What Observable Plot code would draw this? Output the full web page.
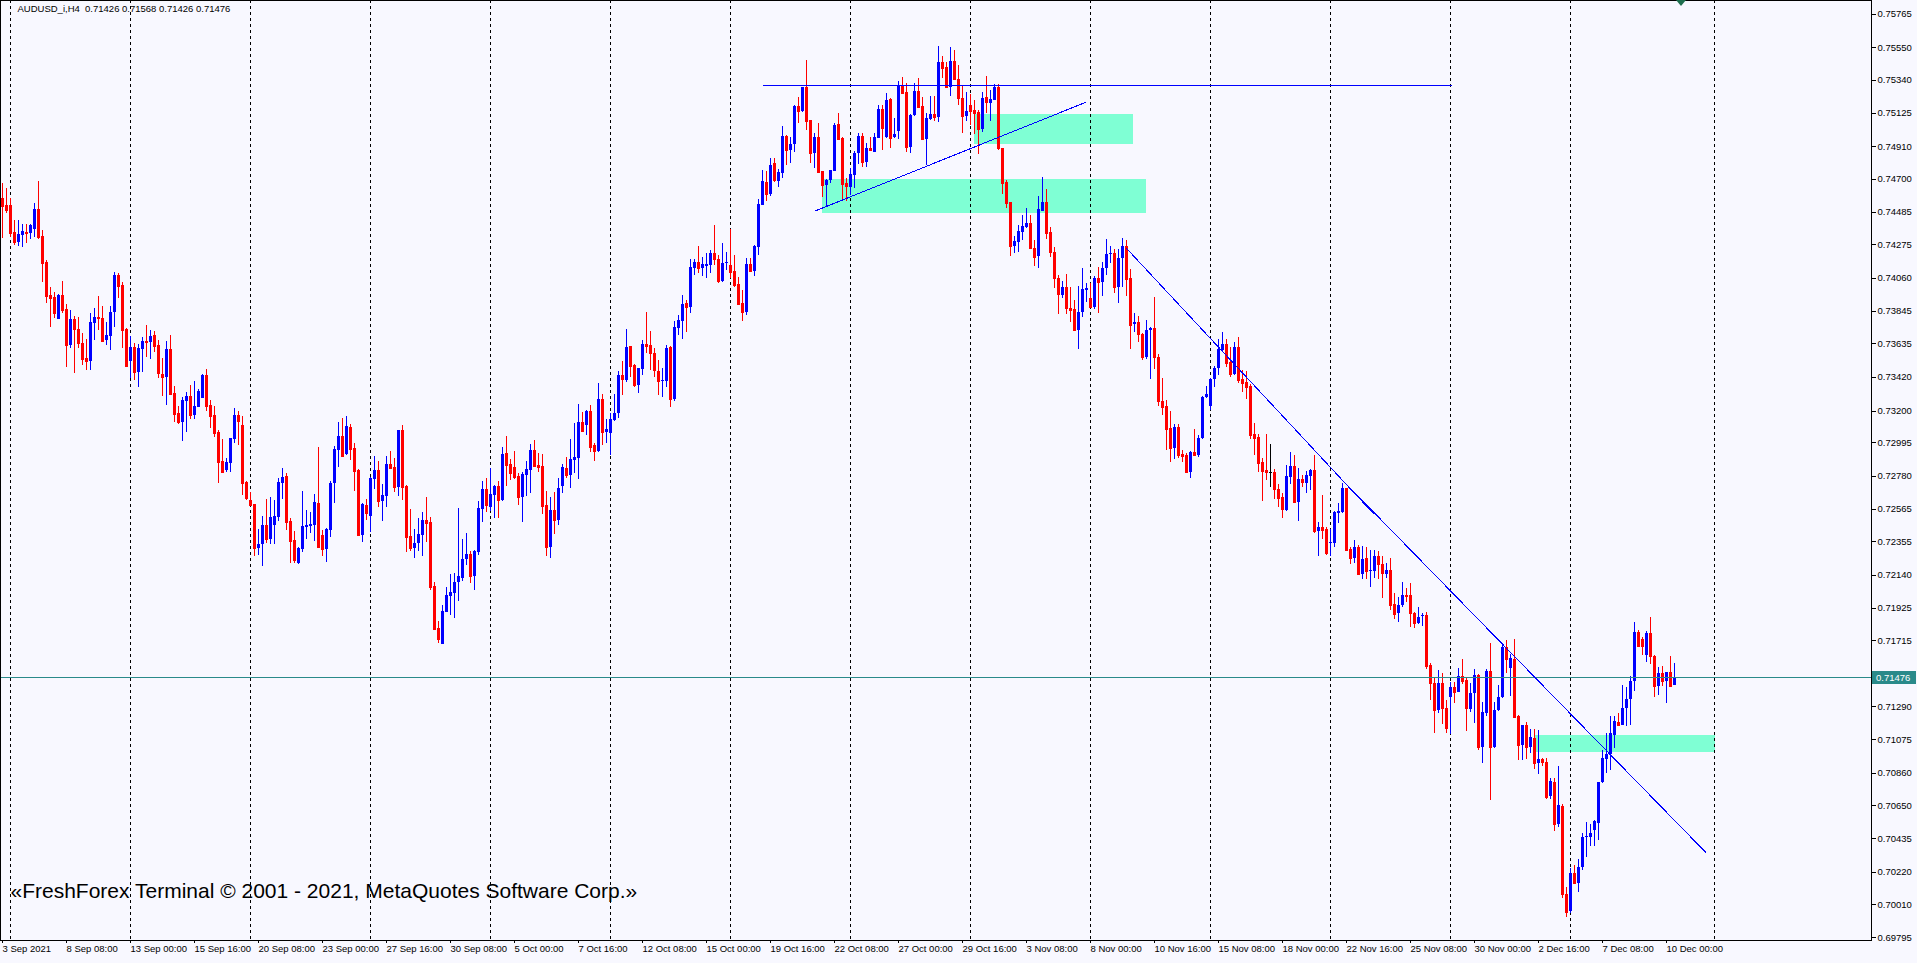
<!DOCTYPE html>
<html><head><meta charset="utf-8">
<script src="https://cdn.jsdelivr.net/npm/d3@7"></script>
<script src="https://cdn.jsdelivr.net/npm/@observablehq/plot@0.6"></script>
<style>
html,body{margin:0;padding:0;background:#F8F8FF;overflow:hidden}
#chart{position:relative;width:1917px;height:963px}
#chart svg{shape-rendering:crispEdges}
#chart svg text{shape-rendering:auto}
#shift{position:absolute;left:1676px;top:0;width:0;height:0;border-left:5px solid transparent;border-right:5px solid transparent;border-top:6px solid #1e6e4e}
</style></head><body><div id="chart"><div id="shift"></div></div>
<script>
// AUDUSD_i, H4 — bars from 3 Sep 2021 16:00 to 10 Dec 2021 08:00 (one per 4 hours)
const open = [0.74572,0.74529,0.74529,0.74357,0.74292,0.74335,0.74357,0.74350,0.74374,0.74503,0.74329,0.74161,0.73949,0.73936,0.73794,0.73947,0.73857,0.73624,0.73792,0.73727,0.73639,0.73540,0.73521,0.73764,0.73807,0.73801,0.73656,0.73682,0.73839,0.74077,0.74012,0.73727,0.73521,0.73611,0.73452,0.73600,0.73650,0.73643,0.73689,0.73624,
0.73437,0.73420,0.73599,0.73316,0.73187,0.73127,0.73264,0.73295,0.73172,0.73226,0.73284,0.73430,0.73236,0.73172,0.73062,0.72874,0.72816,0.72864,0.73017,0.73172,0.73107,0.72737,0.72622,0.72596,0.72314,0.72336,0.72461,0.72372,0.72459,0.72515,
0.72734,0.72777,0.72487,0.72364,0.72217,0.72308,0.72450,0.72454,0.72461,0.72605,0.72396,0.72305,0.72428,0.72730,0.72945,0.73038,0.72919,0.73096,0.72958,0.72816,0.72396,0.72590,0.72519,0.72758,0.72816,0.72618,0.72650,0.72855,0.72833,0.72708,
0.73075,0.72712,0.72389,0.72314,0.72342,0.72396,0.72493,0.72480,0.72066,0.71792,0.71691,0.71896,0.72004,0.72023,0.72094,0.72120,0.72241,0.72273,0.72130,0.72288,0.72564,0.72691,0.72579,0.72654,0.72712,0.72622,0.72924,0.72855,0.72833,0.72777,
0.72643,0.72783,0.72816,0.72945,0.72848,0.72842,0.72590,0.72316,0.72557,0.72493,0.72715,0.72831,0.72783,0.72880,0.72896,0.73126,0.73107,0.73197,0.72977,0.72939,0.73275,0.73064,0.73053,0.73139,0.73182,0.73430,0.73397,0.73617,0.73494,0.73365,
0.73468,0.73630,0.73624,0.73574,0.73458,0.73391,0.73391,0.73613,0.73275,0.73736,0.73781,0.73897,0.73871,0.74124,0.74158,0.74124,0.74134,0.74141,0.74221,0.74180,0.74040,0.74156,0.74141,0.74102,0.74018,0.73893,0.73839,0.74147,0.74104,0.74259,
0.74531,0.74680,0.74600,0.74800,0.74686,0.74738,0.74975,0.74884,0.74921,0.75169,0.75139,0.75294,0.75078,0.74867,0.74970,0.74749,0.74658,0.74690,0.74751,0.75052,0.74960,0.74669,0.74647,0.74723,0.74863,0.74975,0.74809,0.74899,0.74874,0.74960,
0.75147,0.74966,0.75214,0.74966,0.75009,0.75305,0.75261,0.74906,0.75111,0.75268,0.75169,0.74953,0.75083,0.75117,0.75100,0.75456,0.75423,0.75294,0.75460,0.75341,0.75223,0.75104,0.75175,0.75143,0.75128,0.75020,0.75229,0.75191,0.75208,0.75294,
0.74895,0.74680,0.74550,0.74266,0.74288,0.74357,0.74385,0.74410,0.74249,0.74201,0.74490,0.74546,0.74352,0.74223,0.74059,0.73947,0.73997,0.73865,0.73857,0.73721,0.73835,0.73979,0.73926,0.73872,0.74059,0.74033,0.74119,0.74210,0.74221,0.74001,
0.74188,0.74264,0.74055,0.73757,0.73773,0.73695,0.73544,0.73721,0.73732,0.73548,0.73262,0.73230,0.73085,0.72960,0.73096,0.72919,0.72913,0.72801,0.72930,0.72913,0.73021,0.73285,0.73232,0.73404,0.73473,0.73592,0.73630,0.73516,0.73434,0.73609,
0.73402,0.73387,0.73359,0.73049,0.73028,0.72866,0.72816,0.72805,0.72805,0.72691,0.72644,0.72558,0.72773,0.72844,0.72612,0.72758,0.72734,0.72780,0.72816,0.72424,0.72446,0.72433,0.72346,0.72346,0.72540,0.72547,0.72702,0.72306,0.72245,0.72321,
0.72144,0.72245,0.72165,0.72165,0.72262,0.72209,0.72144,0.72170,0.71950,0.71890,0.71943,0.72008,0.72008,0.71894,0.71829,0.71872,0.71879,0.71555,0.71441,0.71264,0.71437,0.71275,0.71351,0.71415,0.71383,0.71484,0.71458,0.71271,0.71377,0.71491,
0.71027,0.71247,0.71519,0.71023,0.71264,0.71346,0.71674,0.71534,0.71592,0.71226,0.71038,0.71167,0.71027,0.71081,0.70920,0.70948,0.70931,0.70711,0.70801,0.70528,0.70644,0.70075,0.69967,0.70209,0.70148,0.70252,0.70441,0.70446,0.70489,0.70536,
0.70801,0.70948,0.70980,0.71103,0.71185,0.71167,0.71275,0.71334,0.71452,0.71771,0.71721,0.71620,0.71764,0.71614,0.71420,0.71506,0.71454,0.71508,0.71426];
const high = [0.74673,0.74637,0.74572,0.74432,0.74432,0.74406,0.74406,0.74406,0.74544,0.74684,0.74367,0.74174,0.74001,0.73969,0.73954,0.74038,0.73889,0.73850,0.73814,0.73807,0.73699,0.73663,0.73829,0.73865,0.73941,0.73878,0.73775,0.73878,0.74094,0.74087,0.74033,0.73732,0.73682,0.73639,0.73630,0.73678,0.73753,0.73721,0.73714,0.73656,
0.73538,0.73650,0.73689,0.73359,0.73230,0.73286,0.73323,0.73366,0.73392,0.73342,0.73437,0.73467,0.73269,0.73230,0.73075,0.73017,0.72892,0.73021,0.73215,0.73200,0.73165,0.72747,0.72676,0.72599,0.72433,0.72519,0.72629,0.72640,0.72622,0.72762,
0.72827,0.72795,0.72504,0.72422,0.72321,0.72681,0.72558,0.72547,0.72659,0.72967,0.72428,0.72439,0.72747,0.72971,0.73128,0.73154,0.73167,0.73111,0.72993,0.72820,0.72600,0.72628,0.72769,0.72906,0.72874,0.72725,0.72909,0.72939,0.72891,0.73075,
0.73107,0.72719,0.72564,0.72432,0.72508,0.72542,0.72639,0.72510,0.72094,0.71840,0.71943,0.72062,0.72144,0.72148,0.72572,0.72370,0.72406,0.72294,0.72299,0.72618,0.72745,0.72766,0.72827,0.72719,0.72745,0.72967,0.73036,0.72885,0.72939,0.72799,
0.72805,0.72874,0.72982,0.73010,0.72928,0.72919,0.72680,0.72639,0.72674,0.72762,0.72855,0.72902,0.73016,0.73122,0.73240,0.73193,0.73204,0.73236,0.72988,0.73380,0.73307,0.73143,0.73186,0.73307,0.73456,0.73520,0.73727,0.73619,0.73499,0.73475,
0.73656,0.73839,0.73714,0.73606,0.73527,0.73477,0.73624,0.73617,0.73781,0.73818,0.73947,0.73915,0.74177,0.74177,0.74264,0.74190,0.74221,0.74238,0.74399,0.74205,0.74285,0.74227,0.74374,0.74205,0.74065,0.73979,0.74184,0.74184,0.74270,0.74568,
0.74755,0.74748,0.74830,0.74830,0.74759,0.75039,0.74981,0.74971,0.75175,0.75229,0.75294,0.75466,0.75078,0.74992,0.75057,0.74751,0.74695,0.74755,0.75057,0.75121,0.74966,0.74705,0.74766,0.74880,0.74992,0.74992,0.74932,0.74971,0.74996,0.75175,
0.75175,0.75255,0.75218,0.75093,0.75333,0.75354,0.75320,0.75117,0.75320,0.75352,0.75229,0.75121,0.75233,0.75234,0.75559,0.75492,0.75456,0.75548,0.75531,0.75434,0.75305,0.75262,0.75244,0.75208,0.75143,0.75262,0.75363,0.75272,0.75309,0.75309,
0.74895,0.74691,0.74550,0.74329,0.74400,0.74464,0.74507,0.74464,0.74303,0.74587,0.74708,0.74632,0.74389,0.74260,0.74076,0.74040,0.74081,0.74001,0.73915,0.74007,0.74120,0.74023,0.74023,0.74067,0.74130,0.74163,0.74309,0.74264,0.74245,0.74242,
0.74313,0.74303,0.74113,0.73829,0.73811,0.73704,0.73786,0.73742,0.73936,0.73564,0.73408,0.73268,0.73197,0.73113,0.73113,0.72945,0.72924,0.72941,0.73079,0.73042,0.73296,0.73359,0.73408,0.73488,0.73660,0.73706,0.73660,0.73613,0.73645,0.73675,
0.73462,0.73456,0.73370,0.73118,0.73047,0.72896,0.73047,0.72984,0.72821,0.72724,0.72665,0.72848,0.72930,0.72913,0.72827,0.72784,0.72812,0.72823,0.72913,0.72482,0.72655,0.72450,0.72433,0.72553,0.72605,0.72734,0.72702,0.72321,0.72364,0.72332,
0.72327,0.72316,0.72299,0.72299,0.72295,0.72260,0.72213,0.72250,0.72023,0.71997,0.72094,0.72051,0.72083,0.71900,0.71933,0.71890,0.71900,0.71571,0.71480,0.71520,0.71502,0.71329,0.71448,0.71448,0.71534,0.71592,0.71476,0.71437,0.71530,0.71497,
0.71318,0.71527,0.71700,0.71318,0.71426,0.71685,0.71717,0.71627,0.71724,0.71232,0.71167,0.71189,0.71139,0.71139,0.71135,0.70952,0.70956,0.70823,0.70827,0.70902,0.70655,0.70118,0.70241,0.70263,0.70299,0.70467,0.70543,0.70528,0.70553,0.70801,
0.71006,0.71114,0.71226,0.71226,0.71243,0.71426,0.71415,0.71484,0.71836,0.71782,0.71734,0.71775,0.71868,0.71620,0.71545,0.71551,0.71512,0.71613,0.71568];
const low = [0.74314,0.74475,0.74324,0.74270,0.74264,0.74260,0.74286,0.74311,0.74324,0.74307,0.74033,0.73898,0.73743,0.73796,0.73794,0.73829,0.73484,0.73602,0.73445,0.73602,0.73495,0.73462,0.73462,0.73656,0.73721,0.73652,0.73624,0.73592,0.73743,0.73926,0.73602,0.73484,0.73409,0.73398,0.73355,0.73452,0.73549,0.73536,0.73581,0.73409,
0.73295,0.73236,0.73308,0.73129,0.73114,0.73006,0.73064,0.73144,0.73148,0.73226,0.73280,0.73200,0.73086,0.73032,0.72734,0.72805,0.72805,0.72805,0.72989,0.72978,0.72655,0.72622,0.72590,0.72260,0.72267,0.72196,0.72342,0.72338,0.72338,0.72489,
0.72629,0.72428,0.72213,0.72213,0.72209,0.72288,0.72370,0.72407,0.72359,0.72316,0.72260,0.72223,0.72385,0.72605,0.72838,0.72902,0.72913,0.72881,0.72682,0.72396,0.72353,0.72493,0.72417,0.72691,0.72579,0.72488,0.72579,0.72827,0.72676,0.72650,
0.72622,0.72288,0.72294,0.72249,0.72294,0.72262,0.72353,0.72040,0.71781,0.71700,0.71691,0.71896,0.71878,0.71861,0.71971,0.72098,0.72202,0.72087,0.72040,0.72266,0.72482,0.72546,0.72553,0.72503,0.72503,0.72615,0.72712,0.72751,0.72755,0.72590,
0.72482,0.72648,0.72669,0.72842,0.72805,0.72529,0.72260,0.72249,0.72402,0.72460,0.72669,0.72762,0.72702,0.72794,0.72758,0.73064,0.73042,0.72934,0.72876,0.72930,0.72977,0.72993,0.72913,0.73135,0.73154,0.73301,0.73387,0.73419,0.73354,0.73315,
0.73430,0.73570,0.73462,0.73419,0.73300,0.73290,0.73354,0.73225,0.73264,0.73688,0.73662,0.73710,0.73828,0.74076,0.74091,0.74070,0.74055,0.74091,0.74141,0.74027,0.74033,0.74108,0.74055,0.73996,0.73882,0.73781,0.73818,0.74102,0.74070,0.74205,
0.74529,0.74557,0.74590,0.74680,0.74647,0.74701,0.74787,0.74802,0.74874,0.75057,0.75132,0.75014,0.74802,0.74766,0.74733,0.74578,0.74524,0.74669,0.74749,0.74949,0.74557,0.74555,0.74593,0.74641,0.74794,0.74777,0.74777,0.74884,0.74874,0.74960,
0.74884,0.74960,0.74895,0.74960,0.74955,0.75255,0.74874,0.74867,0.75104,0.75164,0.74949,0.74787,0.75078,0.75072,0.75063,0.75352,0.75294,0.75236,0.75341,0.75175,0.74997,0.75072,0.75046,0.74988,0.74857,0.74999,0.75122,0.75074,0.75208,0.74885,
0.74598,0.74512,0.74201,0.74216,0.74227,0.74303,0.74382,0.74249,0.74137,0.74120,0.74490,0.74309,0.74195,0.73990,0.73822,0.73926,0.73822,0.73775,0.73721,0.73596,0.73807,0.73904,0.73861,0.73854,0.73833,0.73941,0.74076,0.74152,0.73962,0.73898,
0.74001,0.73941,0.73598,0.73710,0.73645,0.73527,0.73533,0.73402,0.73467,0.73230,0.73171,0.72945,0.72865,0.72887,0.72891,0.72870,0.72801,0.72762,0.72913,0.72902,0.73016,0.73279,0.73204,0.73354,0.73430,0.73581,0.73484,0.73415,0.73430,0.73380,
0.73322,0.73275,0.73015,0.72913,0.72806,0.72616,0.72752,0.72708,0.72629,0.72575,0.72508,0.72551,0.72726,0.72612,0.72489,0.72708,0.72670,0.72687,0.72407,0.72260,0.72370,0.72267,0.72260,0.72316,0.72472,0.72540,0.72295,0.72207,0.72213,0.72144,
0.72110,0.72110,0.72062,0.72116,0.72110,0.71987,0.72120,0.71911,0.71851,0.71836,0.71932,0.71965,0.71799,0.71792,0.71821,0.71808,0.71527,0.71329,0.71118,0.71247,0.71174,0.71114,0.71109,0.71312,0.71383,0.71430,0.71131,0.71254,0.71178,0.71006,
0.70920,0.71226,0.70683,0.71017,0.71260,0.71340,0.71502,0.71355,0.71221,0.70941,0.70941,0.70948,0.70984,0.70883,0.70851,0.70903,0.70687,0.70687,0.70482,0.70510,0.70047,0.69924,0.69950,0.70140,0.70090,0.70230,0.70316,0.70385,0.70385,0.70424,
0.70790,0.70855,0.70877,0.71017,0.71167,0.71167,0.71161,0.71167,0.71390,0.71674,0.71620,0.71577,0.71562,0.71351,0.71362,0.71420,0.71312,0.71415,0.71426];
const close = [0.74525,0.74497,0.74350,0.74292,0.74342,0.74361,0.74346,0.74400,0.74503,0.74324,0.74156,0.73941,0.73930,0.73833,0.73947,0.73850,0.73624,0.73792,0.73725,0.73639,0.73533,0.73521,0.73773,0.73807,0.73801,0.73652,0.73689,0.73839,0.74077,0.74005,0.73721,0.73490,0.73611,0.73452,0.73602,0.73650,0.73643,0.73682,0.73620,0.73441,
0.73415,0.73599,0.73308,0.73180,0.73127,0.73269,0.73295,0.73172,0.73230,0.73327,0.73430,0.73232,0.73168,0.73058,0.72870,0.72805,0.72870,0.73021,0.73172,0.73133,0.72734,0.72637,0.72590,0.72314,0.72338,0.72461,0.72372,0.72510,0.72519,0.72737,
0.72773,0.72482,0.72359,0.72234,0.72310,0.72454,0.72461,0.72467,0.72609,0.72320,0.72305,0.72434,0.72734,0.72952,0.73038,0.72906,0.73103,0.72952,0.72812,0.72396,0.72596,0.72540,0.72762,0.72816,0.72618,0.72654,0.72855,0.72831,0.72708,0.73075,
0.72708,0.72385,0.72314,0.72346,0.72402,0.72493,0.72475,0.72062,0.71786,0.71723,0.71904,0.72008,0.72029,0.72094,0.72131,0.72241,0.72273,0.72130,0.72294,0.72568,0.72691,0.72590,0.72661,0.72712,0.72622,0.72919,0.72848,0.72794,0.72773,0.72643,
0.72790,0.72820,0.72945,0.72844,0.72837,0.72583,0.72316,0.72557,0.72493,0.72702,0.72837,0.72783,0.72887,0.72902,0.73126,0.73068,0.73197,0.72967,0.72939,0.73275,0.73064,0.73079,0.73143,0.73182,0.73430,0.73402,0.73613,0.73488,0.73365,0.73473,
0.73630,0.73617,0.73570,0.73462,0.73391,0.73397,0.73606,0.73275,0.73742,0.73785,0.73889,0.73867,0.74130,0.74162,0.74124,0.74147,0.74147,0.74216,0.74177,0.74040,0.74156,0.74162,0.74098,0.74012,0.73889,0.73839,0.74147,0.74104,0.74264,0.74535,
0.74686,0.74600,0.74790,0.74690,0.74744,0.74975,0.74884,0.74921,0.75169,0.75139,0.75294,0.75074,0.74867,0.74970,0.74744,0.74658,0.74690,0.74755,0.75046,0.74955,0.74665,0.74652,0.74729,0.74863,0.74975,0.74809,0.74899,0.74884,0.74970,0.75147,
0.75024,0.75208,0.74960,0.74988,0.75305,0.75255,0.74906,0.75111,0.75268,0.75164,0.74953,0.75089,0.75117,0.75100,0.75456,0.75417,0.75294,0.75460,0.75341,0.75219,0.75104,0.75137,0.75137,0.75126,0.75020,0.75219,0.75197,0.75214,0.75294,0.74895,
0.74673,0.74544,0.74266,0.74296,0.74363,0.74393,0.74410,0.74249,0.74195,0.74503,0.74546,0.74350,0.74223,0.74059,0.73951,0.73997,0.73865,0.73850,0.73721,0.73839,0.73986,0.73990,0.73872,0.74059,0.74033,0.74124,0.74212,0.74221,0.74001,0.74188,
0.74264,0.74051,0.73753,0.73773,0.73693,0.73544,0.73721,0.73732,0.73544,0.73262,0.73225,0.73079,0.72960,0.73096,0.72913,0.72908,0.72801,0.72934,0.72913,0.73021,0.73285,0.73307,0.73404,0.73473,0.73596,0.73630,0.73510,0.73434,0.73609,0.73398,
0.73380,0.73355,0.73043,0.73021,0.72864,0.72812,0.72805,0.72805,0.72691,0.72637,0.72562,0.72777,0.72844,0.72612,0.72758,0.72741,0.72784,0.72816,0.72422,0.72446,0.72428,0.72282,0.72353,0.72547,0.72551,0.72702,0.72299,0.72245,0.72321,0.72144,
0.72241,0.72165,0.72170,0.72262,0.72207,0.72148,0.72170,0.71943,0.71885,0.71943,0.72008,0.72004,0.71890,0.71829,0.71868,0.71879,0.71549,0.71437,0.71264,0.71441,0.71275,0.71150,0.71415,0.71383,0.71484,0.71454,0.71275,0.71377,0.71491,0.71027,
0.71254,0.71519,0.71023,0.71264,0.71351,0.71674,0.71592,0.71599,0.71221,0.71038,0.71167,0.71027,0.71092,0.70920,0.70948,0.70931,0.70704,0.70806,0.70528,0.70650,0.70073,0.69957,0.70209,0.70148,0.70252,0.70446,0.70450,0.70472,0.70549,0.70801,
0.70952,0.70980,0.71114,0.71193,0.71167,0.71275,0.71334,0.71452,0.71771,0.71678,0.71678,0.71764,0.71614,0.71420,0.71506,0.71454,0.71508,0.71420,0.71476];

// axis labels (the 0.71500 level is hidden behind the current-price label in the reference)
const yTicks = [0.75765,0.75550,0.75340,0.75125,0.74910,0.74700,0.74485,0.74275,0.74060,0.73845,0.73635,0.73420,0.73200,0.72995,0.72780,0.72565,0.72355,0.72140,0.71925,0.71715,0.71290,0.71075,0.70860,0.70650,0.70435,0.70220,0.70010,0.69795];
const xTickBars = [0,16,32,48,64,80,96,112,128,144,160,176,192,208,224,240,256,272,288,304,320,336,352,368,384,400,416];
const xTickLabels = ["3 Sep 2021","8 Sep 08:00","13 Sep 00:00","15 Sep 16:00","20 Sep 08:00","23 Sep 00:00","27 Sep 16:00","30 Sep 08:00","5 Oct 00:00","7 Oct 16:00","12 Oct 08:00","15 Oct 00:00","19 Oct 16:00","22 Oct 08:00","27 Oct 00:00","29 Oct 16:00","3 Nov 08:00","8 Nov 00:00","10 Nov 16:00","15 Nov 08:00","18 Nov 00:00","22 Nov 16:00","25 Nov 08:00","30 Nov 00:00","2 Dec 16:00","7 Dec 08:00","10 Dec 00:00"];
// week separators (bar index of Monday 00:00)
const gridBars = [2,32,62,92,122,152,182,212,242,272,302,332,362,392,428];

// drawn objects (bar index, price)
const zones = [
  {from:243, to:282.85, top:0.75117, bottom:0.74923},
  {from:205, to:285.9, top:0.74697, bottom:0.74479},
  {from:383.25, to:428.25, top:0.71103, bottom:0.70995}
];
const trendLines = [
  {b1:190, p1:0.75305, b2:362.25, p2:0.75305},
  {b1:203, p1:0.74492, b2:270.9, p2:0.75197},
  {b1:280.9, p1:0.74255, b2:342.8, p2:0.72536},
  {b1:335.3, p1:0.72745, b2:425.9, p2:0.70345}
];
const lastPrice = 0.71476;
const symbolTitle = "AUDUSD_i,H4  0.71426 0.71568 0.71426 0.71476";
const watermark = "«FreshForex Terminal © 2001 - 2021, MetaQuotes Software Corp.»";

const bars = open.map((o, i) => ({i, o, h: high[i], l: low[i], c: close[i]}));
const col = d => d.c > d.o ? "#0000FF" : d.c < d.o ? "#FF0000" : "#000000";
const labelOf = new Map(xTickBars.map((b, k) => [b, xTickLabels[k]]));

const W = 1917, H = 963;
const plot = Plot.plot({
  width: W, height: H,
  marginLeft: 0, marginRight: 46, marginTop: 0, marginBottom: 23,
  style: {background: "#F8F8FF", fontFamily: "'Liberation Sans', Arial, sans-serif", fontSize: "9.5px", color: "#000", overflow: "visible"},
  x: {type: "linear", domain: [-0.5, 467.25]},
  y: {type: "linear", domain: [0.697779, 0.758542]},
  marks: [
    Plot.rect(zones, {x1: "from", x2: "to", y1: "bottom", y2: "top", fill: "#7FFFD4"}),
    Plot.ruleX(gridBars, {stroke: "#000", strokeDasharray: "3,3", strokeWidth: 1}),
    Plot.ruleX(bars, {x: "i", y1: "l", y2: "h", stroke: col, strokeWidth: 1}),
    Plot.rect(bars, {x1: d => d.i - 0.375, x2: d => d.i + 0.375, y1: "o", y2: "c", fill: col}),
    Plot.ruleY(bars, {y: "c", x1: d => d.i - 0.375, x2: d => d.i + 0.375, stroke: col}),
    Plot.ruleY([lastPrice], {stroke: "#2a8a8a", strokeWidth: 1}),
    Plot.link(trendLines, {x1: "b1", y1: "p1", x2: "b2", y2: "p2", stroke: "#0000FF", strokeWidth: 1}),
    Plot.frame({stroke: "#000", strokeWidth: 1}),
    Plot.axisY({anchor: "right", ticks: yTicks, tickFormat: d => d.toFixed(5), tickSize: 4, tickPadding: 2, fontSize: 9.5}),
    Plot.axisX({anchor: "bottom", ticks: xTickBars, tickFormat: d => labelOf.get(d), tickSize: 3, tickPadding: 2, textAnchor: "start", dx: 0, fontSize: 9.5}),
    Plot.text([symbolTitle], {frameAnchor: "top-left", dx: 17, dy: 8, lineAnchor: "middle", textAnchor: "start", fontSize: 9.5, fill: "#000"}),
    Plot.text([watermark], {frameAnchor: "bottom-left", dx: 10, dy: -49, lineAnchor: "middle", textAnchor: "start", fontSize: 21, fill: "#000"})
  ]
});
document.getElementById("chart").appendChild(plot);

// current price label on the price axis, placed through the y scale
const svg = d3.select(plot);
const yp = plot.scale("y").apply(lastPrice);
const xr = plot.scale("x").range[1];
const g = svg.append("g").attr("text-anchor", "start");
g.append("rect").attr("x", xr + 1).attr("y", Math.round(yp) - 6).attr("width", 44).attr("height", 13).attr("fill", "#2a8a8a");
g.append("text").attr("x", xr + 5).attr("y", Math.round(yp) + 3.5).attr("fill", "#ffffff").attr("text-anchor", "start")
  .attr("font-family", "'Liberation Sans', Arial, sans-serif").attr("font-size", "9.5px").text(lastPrice.toFixed(5));
</script>
</body></html>
